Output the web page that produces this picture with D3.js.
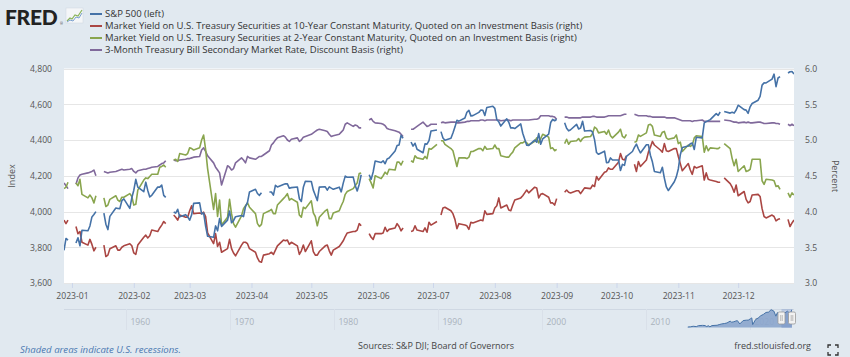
<!DOCTYPE html>
<html><head><meta charset="utf-8">
<script src="https://cdn.jsdelivr.net/npm/d3@7"></script>
<style>
html,body{margin:0;padding:0;background:#e1e9f0;}
svg{display:block;font-family:"Open Sans",sans-serif;}
</style></head>
<body><svg id="c" width="850" height="357"></svg>
<script>
// ---------- DATA ----------
const startDay = "2022-12-28";   // first business day shown
const endDay = "2023-12-29";     // last business day shown
// one row per week (Mon..Fri), first row Wed 28 - Fri 30 Dec 2022; null = market holiday
const sp500 = [
 3783.22,3849.28,3839.50,
 null,3824.14,3852.97,3808.10,3895.08,
 3892.09,3919.25,3969.61,3983.17,3999.09,
 null,3990.97,3928.86,3898.85,3972.61,
 4019.81,4016.95,4016.22,4060.43,4070.56,
 4017.77,4076.60,4119.21,4179.76,4136.48,
 4111.08,4164.00,4117.86,4081.50,4090.46,
 4137.29,4136.13,4147.60,4090.41,4079.09,
 null,3997.34,3991.05,4012.32,3970.04,
 3982.24,3970.15,3951.39,3981.35,4045.64,
 4048.42,3986.37,3992.01,3918.32,3861.59,
 3855.76,3919.29,3891.93,3960.28,3916.64,
 3951.57,4002.87,3936.97,3948.72,3970.99,
 3977.53,3971.27,4027.81,4050.83,4109.31,
 4124.51,4100.60,4090.38,4105.02,null,
 4109.11,4108.94,4091.95,4146.22,4137.64,
 4151.32,4154.87,4154.52,4129.79,4133.52,
 4137.04,4071.63,4055.99,4135.35,4169.48,
 4167.87,4119.58,4090.75,4061.22,4136.25,
 4138.12,4119.17,4137.64,4130.62,4124.08,
 4136.28,4109.90,4158.77,4198.05,4191.98,
 4192.63,4145.58,4115.24,4151.28,4205.45,
 null,4205.52,4179.83,4221.02,4282.37,
 4273.79,4283.85,4267.52,4293.93,4298.86,
 4338.93,4369.01,4372.59,4425.84,4409.59,
 null,4388.71,4365.69,4381.89,4348.33,
 4328.82,4378.41,4376.86,4396.44,4450.38,
 4455.59,null,4446.82,4411.59,4398.95,
 4409.53,4439.26,4472.16,4510.04,4505.42,
 4522.79,4554.98,4565.72,4534.87,4536.34,
 4554.64,4567.46,4566.75,4537.41,4582.23,
 4588.96,4576.73,4513.39,4501.89,4478.03,
 4518.44,4499.38,4467.71,4468.83,4464.05,
 4489.72,4437.86,4404.33,4370.36,4369.71,
 4399.77,4387.55,4436.01,4376.31,4405.71,
 4433.31,4497.63,4514.87,4507.66,4515.77,
 null,4496.83,4465.48,4451.14,4457.49,
 4487.46,4461.90,4467.44,4505.10,4450.32,
 4453.53,4443.95,4402.20,4330.00,4320.06,
 4337.44,4273.53,4274.51,4299.70,4288.05,
 4288.39,4229.45,4263.75,4258.19,4308.50,
 4335.66,4358.24,4376.95,4349.61,4327.78,
 4373.63,4373.20,4314.60,4278.00,4224.16,
 4217.04,4247.68,4186.77,4137.23,4117.37,
 4166.82,4193.80,4237.86,4317.78,4358.34,
 4365.98,4378.38,4382.78,4347.35,4415.24,
 4411.55,4495.70,4502.88,4508.24,4514.02,
 4547.38,4538.19,4556.62,null,4559.34,
 4550.43,4554.89,4550.58,4567.80,4594.63,
 4569.78,4567.18,4549.34,4585.59,4604.37,
 4622.44,4643.70,4707.09,4719.55,4719.19,
 4740.56,4768.37,4698.35,4746.75,4754.63,
 null,4774.75,4781.58,4783.35,4769.83
];
const yield10 = [
 3.88,3.83,3.88,
 null,3.79,3.69,3.72,3.57,
 3.53,3.61,3.54,3.45,3.50,
 null,3.53,3.37,3.39,3.48,
 3.52,3.46,3.46,3.50,3.52,
 3.55,3.52,3.42,3.40,3.53,
 3.64,3.67,3.63,3.66,3.74,
 3.72,3.77,3.81,3.86,3.83,
 null,3.95,3.92,3.88,3.95,
 3.92,3.92,4.01,4.08,3.97,
 3.98,3.97,3.99,3.93,3.70,
 3.55,3.69,3.51,3.57,3.43,
 3.48,3.61,3.48,3.42,3.38,
 3.53,3.57,3.57,3.55,3.48,
 3.43,3.35,3.30,3.29,3.39,
 3.41,3.43,3.40,3.46,3.52,
 3.60,3.59,3.60,3.54,3.57,
 3.52,3.40,3.45,3.53,3.44,
 3.59,3.44,3.39,3.39,3.44,
 3.52,3.53,3.45,3.39,3.46,
 3.51,3.55,3.59,3.65,3.70,
 3.72,3.72,3.74,3.83,3.80,
 null,3.69,3.64,3.61,3.69,
 3.69,3.70,3.78,3.72,3.75,
 3.77,3.83,3.79,3.73,3.77,
 null,3.72,3.73,3.80,3.74,
 3.72,3.77,3.71,3.85,3.81,
 3.86,null,3.95,4.05,4.06,
 4.01,3.97,3.89,3.76,3.83,
 3.81,3.80,3.75,3.85,3.84,
 3.87,3.88,3.87,4.01,3.96,
 3.97,4.05,4.08,4.19,4.05,
 4.09,4.02,4.01,4.09,4.16,
 4.19,4.22,4.26,4.30,4.26,
 4.34,4.33,4.19,4.24,4.25,
 4.20,4.12,4.12,4.09,4.18,
 null,4.27,4.30,4.27,4.26,
 4.29,4.29,4.25,4.29,4.33,
 4.32,4.37,4.35,4.49,4.44,
 4.55,4.56,4.61,4.59,4.59,
 4.69,4.81,4.73,4.72,4.78,
 null,4.66,4.56,4.70,4.63,
 4.72,4.83,4.90,4.98,4.93,
 4.86,4.83,4.95,4.85,4.84,
 4.88,4.88,4.77,4.67,4.57,
 4.67,4.58,4.52,4.63,4.61,
 4.64,4.44,4.54,4.45,4.44,
 4.42,4.41,4.41,null,4.47,
 4.39,4.34,4.27,4.37,4.22,
 4.28,4.17,4.12,4.14,4.23,
 4.24,4.21,4.04,3.93,3.91,
 3.95,3.93,3.87,3.89,3.90,
 null,3.89,3.79,3.84,3.88
];
const yield2 = [
 4.32,4.34,4.41,
 null,4.40,4.36,4.45,4.24,
 4.19,4.23,4.19,4.12,4.22,
 null,4.19,4.07,4.09,4.17,
 4.22,4.16,4.14,4.20,4.20,
 4.25,4.21,4.09,4.10,4.30,
 4.44,4.47,4.46,4.49,4.52,
 4.52,4.62,4.63,4.65,4.62,
 null,4.72,4.73,4.70,4.81,
 4.79,4.81,4.89,4.88,4.86,
 4.89,5.00,5.07,4.87,4.60,
 4.03,4.25,3.93,4.16,3.81,
 3.92,4.17,3.97,3.83,3.78,
 3.94,4.04,4.08,4.12,4.06,
 3.97,3.83,3.79,3.82,3.97,
 4.01,4.03,3.97,3.97,4.09,
 4.18,4.21,4.25,4.16,4.18,
 4.13,3.95,3.92,4.06,4.04,
 4.15,3.98,3.93,3.80,3.92,
 4.01,4.03,3.90,3.90,3.98,
 4.01,4.08,4.14,4.24,4.28,
 4.32,4.36,4.40,4.53,4.54,
 null,4.46,4.40,4.33,4.50,
 4.46,4.50,4.55,4.52,4.59,
 4.58,4.69,4.69,4.65,4.71,
 null,4.71,4.69,4.78,4.75,
 4.73,4.77,4.74,4.88,4.87,
 4.94,null,4.99,4.99,4.94,
 4.88,4.85,4.74,4.63,4.75,
 4.75,4.74,4.76,4.84,4.84,
 4.88,4.88,4.85,4.91,4.87,
 4.88,4.93,4.88,4.88,4.78,
 4.76,4.76,4.80,4.83,4.89,
 4.96,4.96,4.98,4.96,4.93,
 4.98,5.03,4.96,5.02,5.08,
 5.04,4.88,4.89,4.85,4.87,
 null,4.95,5.01,4.94,4.98,
 4.99,5.02,4.98,5.02,5.04,
 5.05,5.09,5.18,5.16,5.10,
 5.12,5.08,5.14,5.06,5.03,
 5.11,5.15,5.05,5.03,5.08,
 null,4.97,4.98,5.07,5.05,
 5.10,5.21,5.22,5.19,5.07,
 5.05,5.11,5.12,5.03,5.01,
 5.03,5.07,4.95,4.97,4.84,
 4.93,4.91,4.93,5.03,5.06,
 5.05,4.83,4.92,4.85,4.89,
 4.88,4.88,4.90,null,4.95,
 4.88,4.74,4.64,4.73,4.56,
 4.64,4.56,4.57,4.59,4.73,
 4.73,4.73,4.43,4.38,4.45,
 4.44,4.43,4.35,4.36,4.31,
 null,4.26,4.20,4.26,4.23
];
const bill3m = [
 4.40,4.36,4.32,
 null,4.38,4.47,4.51,4.52,
 4.54,4.55,4.56,4.58,4.50,
 null,4.56,4.55,4.54,4.55,
 4.56,4.57,4.58,4.59,4.58,
 4.59,4.60,4.56,4.54,4.57,
 4.59,4.59,4.60,4.61,4.62,
 4.63,4.65,4.67,4.68,4.71,
 null,4.72,4.71,4.71,4.72,
 4.73,4.74,4.74,4.75,4.76,
 4.77,4.86,4.89,4.84,4.78,
 4.68,4.62,4.58,4.54,4.37,
 4.64,4.62,4.58,4.60,4.68,
 4.75,4.72,4.68,4.77,4.75,
 4.73,4.75,4.77,4.77,4.79,
 4.85,4.93,4.96,5.00,5.03,
 5.06,5.04,5.00,4.98,5.01,
 5.03,4.98,5.00,5.04,5.05,
 5.08,5.10,5.12,5.14,5.15,
 5.13,5.12,5.08,5.05,5.06,
 5.08,5.11,5.14,5.22,5.24,
 5.19,5.21,5.20,5.17,5.17,
 null,5.28,5.30,5.26,5.24,
 5.23,5.22,5.20,5.16,5.15,
 5.13,5.12,5.11,5.08,5.05,
 null,5.15,5.15,5.17,5.19,
 5.25,5.22,5.19,5.20,5.22,
 5.22,null,5.24,5.25,5.24,
 5.25,5.25,5.25,5.24,5.24,
 5.25,5.26,5.26,5.27,5.27,
 5.27,5.28,5.28,5.27,5.28,
 5.28,5.28,5.28,5.28,5.27,
 5.28,5.28,5.27,5.28,5.28,
 5.28,5.28,5.28,5.28,5.28,
 5.29,5.29,5.30,5.34,5.34,
 5.34,5.33,5.33,5.32,5.29,
 null,5.32,5.32,5.31,5.31,
 5.31,5.31,5.31,5.32,5.32,
 5.32,5.33,5.33,5.32,5.32,
 5.32,5.33,5.34,5.34,5.34,
 5.34,5.34,5.35,5.36,5.36,
 null,5.36,5.35,5.34,5.34,
 5.34,5.33,5.33,5.32,5.32,
 5.32,5.32,5.32,5.31,5.31,
 5.31,5.30,5.29,5.28,5.27,
 5.27,5.27,5.26,5.27,5.27,
 5.28,5.26,5.26,5.26,5.26,
 5.26,5.26,5.26,null,5.28,
 5.27,5.26,5.25,5.25,5.24,
 5.25,5.24,5.25,5.24,5.24,
 5.25,5.25,5.24,5.23,5.23,
 5.24,5.24,5.23,5.23,5.22,
 null,5.22,5.20,5.22,5.20
];
const seriesNames = [
 "S&P 500 (left)",
 "Market Yield on U.S. Treasury Securities at 10-Year Constant Maturity, Quoted on an Investment Basis (right)",
 "Market Yield on U.S. Treasury Securities at 2-Year Constant Maturity, Quoted on an Investment Basis (right)",
 "3-Month Treasury Bill Secondary Market Rate, Discount Basis (right)"
];
const seriesColors = ["#4572a7","#aa4643","#89a54e","#80699b"];
const leftTicks = [3600,3800,4000,4200,4400,4600,4800];
const rightTicks = [3.0,3.5,4.0,4.5,5.0,5.5,6.0];
// navigator (S&P 500 full history, approx.)
const navYears = [2013.98,2014.25,2014.5,2014.8,2015.0,2015.4,2015.65,2015.75,2016.0,2016.1,2016.3,2016.5,2016.8,2017.0,2017.25,2017.5,2017.75,2018.05,2018.2,2018.4,2018.6,2018.75,2018.98,2019.3,2019.6,2019.8,2020.0,2020.13,2020.22,2020.5,2020.75,2021.0,2021.25,2021.5,2021.75,2021.99,2022.25,2022.45,2022.6,2022.78,2023.0,2023.25,2023.55,2023.82,2023.99];
const navValues = [1830,1870,1960,1900,2060,2110,2080,1920,2040,1860,2070,2100,2130,2240,2360,2420,2520,2830,2650,2720,2850,2910,2350,2920,2990,3000,3230,3380,2240,3100,3360,3750,3970,4300,4360,4770,4540,3670,4280,3580,3840,4110,4520,4120,4770];
const navDecades = [1960,1970,1980,1990,2000,2010,2020];
const navSelected = [2022.99, 2024.0];

// ---------- LAYOUT ----------
const svg = d3.select("#c");
const L = 64, R = 794, T = 68.5, B = 283;
const parse = d3.timeParse("%Y-%m-%d");
const d0 = parse(startDay), d1 = parse(endDay);
const dates = d3.timeDay.range(d0, d3.timeDay.offset(d1, 1)).filter(d => d.getDay() !== 0 && d.getDay() !== 6);

const x = d3.scaleTime().domain([d0, d1]).range([L, R]);
const yL = d3.scaleLinear().domain([3600, 4800]).range([B, T]);
const yR = d3.scaleLinear().domain([3, 6]).range([B, T]);

// plot background
svg.append("rect").attr("x", L).attr("y", T).attr("width", R - L).attr("height", B - T).attr("fill", "#fff");

// gridlines
svg.append("g").selectAll("line").data(leftTicks).join("line")
  .attr("x1", L).attr("x2", R).attr("y1", d => Math.round(yL(d)) + 0.5).attr("y2", d => Math.round(yL(d)) + 0.5)
  .attr("stroke", "#e6e6e6").attr("stroke-width", 1.2);

// x ticks
const months = d3.timeMonth.range(parse("2023-01-01"), parse("2023-12-02"));
const xAxis = d3.axisBottom(x).tickValues(months).tickFormat(d3.timeFormat("%Y-%m")).tickSize(5).tickPadding(5);
const gx = svg.append("g").attr("transform", `translate(0,${B})`).call(xAxis);
gx.select(".domain").remove();
gx.selectAll("line").attr("stroke", "#ccd6eb");
gx.selectAll("text").attr("fill", "#555").style("font-size", "8.6px").attr("font-family", "Open Sans");

// left axis
const gl = svg.append("g").attr("transform", `translate(${L},0)`)
  .call(d3.axisLeft(yL).tickValues(leftTicks).tickFormat(d3.format(",")).tickSize(0).tickPadding(12));
gl.select(".domain").remove();
gl.selectAll("text").attr("fill", "#555").style("font-size", "8.6px").attr("font-family", "Open Sans");

// right axis
const gr = svg.append("g").attr("transform", `translate(${R},0)`)
  .call(d3.axisRight(yR).tickValues(rightTicks).tickFormat(d3.format(".1f")).tickSize(0).tickPadding(11));
gr.select(".domain").remove();
gr.selectAll("text").attr("fill", "#555").style("font-size", "8.6px").attr("font-family", "Open Sans");

// axis titles
svg.append("text").attr("transform", "translate(15,176) rotate(-90)").attr("text-anchor", "middle")
  .attr("fill", "#555").style("font-size", "9px").text("Index");
svg.append("text").attr("transform", "translate(832,176) rotate(90)").attr("text-anchor", "middle")
  .attr("fill", "#555").style("font-size", "9px").text("Percent");

// lines
svg.append("clipPath").attr("id", "clip").append("rect").attr("x", L).attr("y", T - 2).attr("width", R - L).attr("height", B - T + 4);
const plot = svg.append("g").attr("clip-path", "url(#clip)");
const allSeries = [
  {vals: sp500, y: yL},
  {vals: yield10, y: yR},
  {vals: yield2, y: yR},
  {vals: bill3m, y: yR}
];
[3, 2, 1, 0].forEach(i => {
  const s = allSeries[i];
  const pts = dates.map((d, k) => ({d, v: s.vals[k]}));
  const line = d3.line().defined(p => p.v != null).x(p => x(p.d)).y(p => s.y(p.v));
  plot.append("path").datum(pts).attr("d", line).attr("fill", "none")
    .attr("stroke", seriesColors[i]).attr("stroke-width", 1.6).attr("stroke-linejoin", "round");
});

// legend
const lg = svg.append("g");
seriesNames.forEach((n, i) => {
  const yy = 14 + i * 12;
  lg.append("line").attr("x1", 90).attr("x2", 102).attr("y1", yy).attr("y2", yy).attr("stroke", seriesColors[i]).attr("stroke-width", 2);
  lg.append("text").attr("x", 105).attr("y", yy).attr("dy", "0.35em").attr("fill", "#333").style("font-size", "9.5px").text(n);
});

// FRED logo
svg.append("text").attr("x", 5).attr("y", 24.5).attr("font-family", "Lato").attr("font-weight", 900)
  .style("font-size", "21px").attr("fill", "#222").attr("letter-spacing", "-0.3").text("FRED");
svg.append("text").attr("x", 60).attr("y", 24.5).style("font-size", "3.5px").attr("fill", "#333").text("®");
const ic = svg.append("g");
ic.append("rect").attr("x", 66).attr("y", 8).attr("width", 17).attr("height", 15).attr("fill", "#f4f6f8").attr("stroke", "#cfd6de").attr("stroke-width", 0.5);
ic.append("polyline").attr("points", "67,21 70,18 72,19 75,15 78,16 82,10").attr("fill", "none").attr("stroke", "#8ab45a").attr("stroke-width", 1.2);
ic.append("polyline").attr("points", "67,22 70,20 73,21 76,17 79,18 82,13").attr("fill", "none").attr("stroke", "#7aa0cf").attr("stroke-width", 1);

// navigator
const nx = d3.scaleLinear().domain([1954, 2024]).range([64, 792]);
const ny = d3.scaleLinear().domain([1750, 4800]).range([327.5, 309.5]);
const NT = 309, NB = 328;
svg.append("line").attr("x1", L).attr("x2", R).attr("y1", NT + 0.5).attr("y2", NT + 0.5).attr("stroke", "#cfd8e3").attr("stroke-width", 1);
navDecades.forEach(yr => {
  svg.append("line").attr("x1", Math.round(nx(yr)) + 0.5).attr("x2", Math.round(nx(yr)) + 0.5).attr("y1", NT).attr("y2", NB + 2)
    .attr("stroke", "#d9e0e9").attr("stroke-width", 1);
  svg.append("text").attr("x", nx(yr) + 4).attr("y", 325).attr("fill", "#aab2bc").style("font-size", "8.6px").text(yr);
});
const navPts = navYears.map((yr, i) => ({yr, v: navValues[i]}));
svg.append("path").datum(navPts).attr("d", d3.area().x(p => nx(p.yr)).y0(NB - 0.5).y1(p => ny(p.v)))
  .attr("fill", "#8ba5cc").attr("fill-opacity", 0.9);
svg.append("path").datum(navPts).attr("d", d3.line().x(p => nx(p.yr)).y(p => ny(p.v)))
  .attr("fill", "none").attr("stroke", "#4572a7").attr("stroke-width", 1);
svg.append("rect").attr("x", nx(navSelected[0])).attr("y", NT).attr("width", nx(navSelected[1]) - nx(navSelected[0])).attr("height", NB - NT)
  .attr("fill", "rgba(102,133,194,0.3)");
navSelected.forEach(yr => {
  const hx = nx(yr);
  svg.append("rect").attr("x", hx - 3.5).attr("y", 312).attr("width", 7).attr("height", 12).attr("rx", 1.5)
    .attr("fill", "#f2f2f2").attr("stroke", "#999").attr("stroke-width", 0.8);
  svg.append("line").attr("x1", hx - 0.8).attr("x2", hx - 0.8).attr("y1", 315).attr("y2", 321).attr("stroke", "#999").attr("stroke-width", 0.6);
  svg.append("line").attr("x1", hx + 0.8).attr("x2", hx + 0.8).attr("y1", 315).attr("y2", 321).attr("stroke", "#999").attr("stroke-width", 0.6);
});

// footer
svg.append("text").attr("x", 20).attr("y", 353).attr("fill", "#4a78b0").attr("font-style", "italic").style("font-size", "9.6px")
  .text("Shaded areas indicate U.S. recessions.");
svg.append("text").attr("x", 436).attr("y", 349).attr("text-anchor", "middle").attr("fill", "#444").style("font-size", "9px")
  .text("Sources: S&P DJI; Board of Governors");
svg.append("text").attr("x", 811).attr("y", 349).attr("text-anchor", "end").attr("fill", "#444").style("font-size", "9px")
  .text("fred.stlouisfed.org");
const fs = svg.append("g").attr("stroke", "#333").attr("stroke-width", 1.3).attr("fill", "none");
[[828,345,1,1],[838,345,-1,1],[828,355,1,-1],[838,355,-1,-1]].forEach(([cx, cy, sx, sy]) => {
  fs.append("polyline").attr("points", `${cx},${cy + 3 * sy} ${cx},${cy} ${cx + 3 * sx},${cy}`);
});
</script></body></html>
